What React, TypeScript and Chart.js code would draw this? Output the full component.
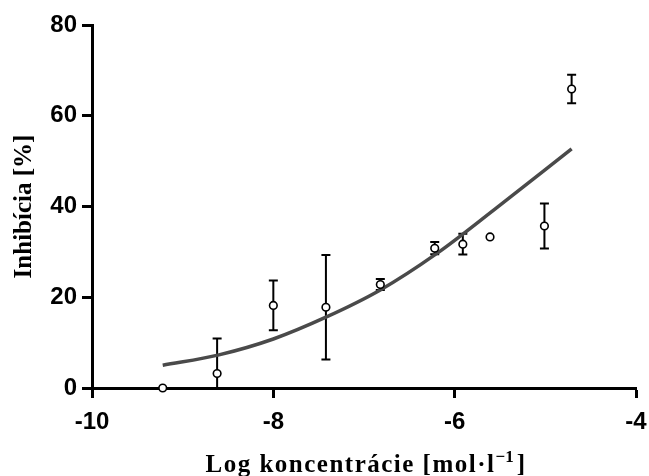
import React, { useEffect, useRef } from "react";
import { Chart, registerables } from "chart.js";

Chart.register(...registerables);

// Measured data (log concentration, inhibition mean, SD)
const logConc = [-9.22, -8.62, -8.0, -7.42, -6.82, -6.22, -5.91, -5.61, -5.01, -4.71];
const inhibition = [0.0, 3.2, 18.2, 17.8, 22.8, 30.8, 31.7, 33.3, 35.7, 65.9];
const inhibitionSd = [0, 7.7, 5.5, 11.5, 1.2, 1.35, 2.3, 0, 4.95, 3.15];

// Fitted curve
const fitX = [-9.22, -8.6, -8.0, -7.42, -6.82, -6.2, -5.57, -4.71];
const fitY = [5.0, 7.3, 10.8, 15.6, 21.6, 29.6, 39.2, 52.7];

const xTicks = [-10, -8, -6, -4];
const yTicks = [0, 20, 40, 60, 80];

const xTitleMain = "Log koncentrácie [mol·l";
const xTitleSup = "\u22121";
const xTitleEnd = "]";
const yTitle = "Inhibícia [%]";

const SANS = "'Liberation Sans', Arial, sans-serif";
const SERIF = "'Liberation Serif', 'Times New Roman', serif";

const errorBarPlugin = {
  id: "errorBars",
  beforeDatasetsDraw(chart: any) {
    const { ctx, chartArea } = chart;
    const xs = chart.scales.x;
    const ys = chart.scales.y;
    ctx.save();
    ctx.beginPath();
    ctx.rect(chartArea.left, chartArea.top, chartArea.right - chartArea.left, chartArea.bottom - chartArea.top);
    ctx.clip();
    ctx.strokeStyle = "#000";
    ctx.lineWidth = 2;
    const cap = 4.5;
    for (let i = 0; i < logConc.length; i++) {
      const sd = inhibitionSd[i];
      if (!sd) continue;
      const px = xs.getPixelForValue(logConc[i]);
      const top = ys.getPixelForValue(inhibition[i] + sd);
      const bot = ys.getPixelForValue(inhibition[i] - sd);
      ctx.beginPath();
      ctx.moveTo(px, top);
      ctx.lineTo(px, bot);
      ctx.moveTo(px - cap, top);
      ctx.lineTo(px + cap, top);
      ctx.moveTo(px - cap, bot);
      ctx.lineTo(px + cap, bot);
      ctx.stroke();
    }
    ctx.restore();
  },
};

const xTitlePlugin = {
  id: "xTitle",
  afterDraw(chart: any) {
    const { ctx, chartArea } = chart;
    ctx.save();
    ctx.fillStyle = "#000";
    ctx.textAlign = "left";
    ctx.textBaseline = "alphabetic";
    const mainFont = `bold 25px ${SERIF}`;
    const supFont = `bold 17px ${SERIF}`;
    (ctx as any).letterSpacing = "1.5px";
    ctx.font = mainFont;
    const wMain = ctx.measureText(xTitleMain).width;
    const wEnd = ctx.measureText(xTitleEnd).width;
    (ctx as any).letterSpacing = "0px";
    ctx.font = supFont;
    const wSup = ctx.measureText(xTitleSup).width;
    const total = wMain + wSup + 3 + wEnd;
    const cx = (chartArea.left + chartArea.right) / 2 + 2;
    let x = cx - total / 2;
    const base = 472;
    (ctx as any).letterSpacing = "1.5px";
    ctx.font = mainFont;
    ctx.fillText(xTitleMain, x, base);
    x += wMain;
    (ctx as any).letterSpacing = "0px";
    ctx.font = supFont;
    ctx.fillText(xTitleSup, x, base - 10);
    x += wSup + 3;
    ctx.font = mainFont;
    ctx.fillText(xTitleEnd, x, base);
    ctx.restore();
  },
};

export default function App() {
  const ref = useRef<HTMLCanvasElement | null>(null);

  useEffect(() => {
    if (!ref.current) return;
    const chart = new Chart(ref.current, {
      type: "scatter",
      data: {
        datasets: [
          {
            label: "Inhibícia",
            data: logConc.map((x, i) => ({ x, y: inhibition[i] })),
            showLine: false,
            pointRadius: 3.8,
            pointBorderWidth: 1.6,
            pointBorderColor: "#000",
            pointBackgroundColor: "#fff",
            clip: false as any,
          },
          {
            label: "Fit",
            data: fitX.map((x, i) => ({ x, y: fitY[i] })),
            showLine: true,
            borderColor: "#4a4a4a",
            borderWidth: 3.5,
            pointRadius: 0,
            cubicInterpolationMode: "monotone",
          },
        ],
      },
      options: {
        animation: false,
        responsive: true,
        maintainAspectRatio: false,
        layout: { padding: { top: 25, right: 13, left: 0, bottom: 0 } },
        plugins: { legend: { display: false }, tooltip: { enabled: false } },
        scales: {
          x: {
            type: "linear",
            min: -10,
            max: -4,
            afterBuildTicks: (s: any) => {
              s.ticks = xTicks.map((v) => ({ value: v }));
            },
            afterFit: (s: any) => {
              s.height = 88;
              s.paddingLeft = 0;
              s.paddingRight = 0;
            },
            border: { display: true, color: "#000", width: 3 },
            grid: {
              drawOnChartArea: false,
              drawTicks: true,
              tickLength: 10,
              tickWidth: 3,
              tickColor: "#000",
              color: "#000",
            },
            ticks: {
              color: "#000",
              padding: 10,
              font: { family: SANS, size: 24, weight: "bold" },
            },
            title: { display: false },
          },
          y: {
            type: "linear",
            min: 0,
            max: 80,
            afterBuildTicks: (s: any) => {
              s.ticks = yTicks.map((v) => ({ value: v }));
            },
            afterFit: (s: any) => {
              s.width = 92;
              s.paddingTop = 0;
              s.paddingBottom = 0;
            },
            border: { display: true, color: "#000", width: 3 },
            grid: {
              drawOnChartArea: false,
              drawTicks: true,
              tickLength: 10,
              tickWidth: 3,
              tickColor: "#000",
              color: "#000",
            },
            ticks: {
              color: "#000",
              padding: 5,
              font: { family: SANS, size: 24, weight: "bold" },
            },
            title: {
              display: true,
              text: yTitle,
              color: "#000",
              padding: { top: 10, bottom: 0 },
              font: { family: SERIF, size: 25, weight: "bold", lineHeight: 1.2 },
            },
          },
        },
      },
      plugins: [errorBarPlugin, xTitlePlugin],
    });
    return () => chart.destroy();
  }, []);

  return (
    <div style={{ position: "fixed", left: 0, top: 0, width: 649, height: 476, background: "#fff" }}>
      <canvas ref={ref} />
    </div>
  );
}
